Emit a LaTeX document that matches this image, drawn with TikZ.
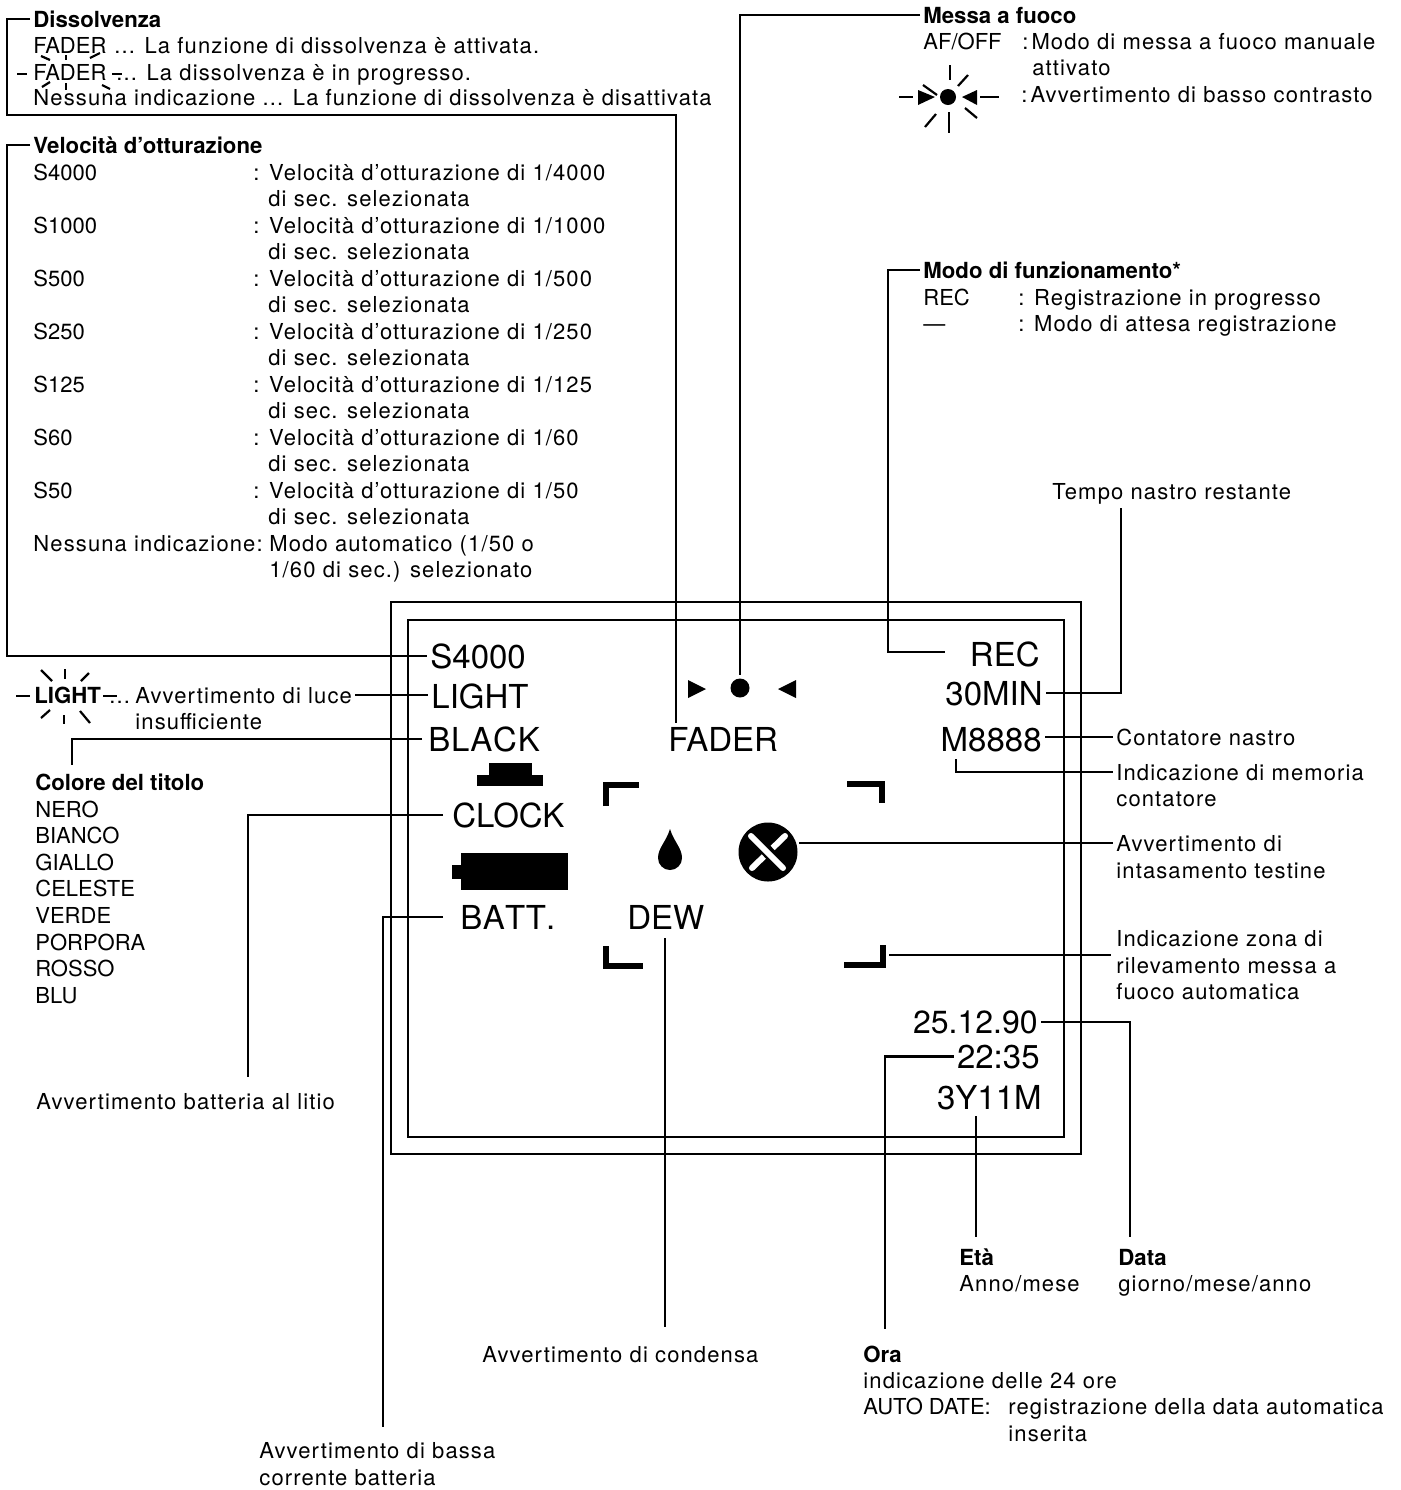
\documentclass[tikz,border=0pt]{standalone}
\usepackage{fontspec}
\setmainfont{TeX Gyre Heros}
\newfontfamily\widefont[LetterSpace=5.1]{TeX Gyre Heros}
\usetikzlibrary{calc}

\begin{document}
\begin{tikzpicture}[x=0.5pt, y=-0.5pt, >=latex,
    caps/.style={anchor=base west, inner sep=0pt, font=\fontsize{11}{13.3}\selectfont},
    txt/.style={caps, font=\widefont\fontsize{11}{13.3}\selectfont},
    head/.style={caps, font=\fontsize{11.1}{13.3}\selectfont\bfseries},
    disp/.style={anchor=base west, inner sep=0pt, font=\fontsize{16.5}{20}\selectfont},
    dispr/.style={disp, anchor=base east},
    lead/.style={line width=1.1pt, line join=miter, shorten <=1.5pt, shorten >=1.5pt},
    blink/.style={line width=1.1pt},
    viewframe/.style={line width=1.4pt},
    corner/.style={line width=3pt, line join=miter}]
  \useasboundingbox (0,0) rectangle (1401,1490);

  % Viewfinder frame
  \draw[viewframe] (391,602) rectangle (1081,1154);
  \draw[viewframe] (408,620) rectangle (1064,1137);

  % Display texts, left
  \node[disp] (nS) at (430,668) {S4000};
  \node[disp] (nLight) at (431,708) {LIGHT};
  \node[disp] (nBlack) at (428,751) {B\kern0.4pt L\kern0.4pt A\kern0.4pt C\kern0.4pt K};
  \node[disp] (nClock) at (452,827) {CLOCK};
  \node[disp] (nBatt) at (460,929) {B\kern0.2pt A\kern0.2pt T\kern0.2pt T\kern0.1pt .};
  \node[disp] (nDew) at (627,929) {DEW};
  \node[disp] (nFader) at (668,751) {FADER};

  % Display texts, right
  \node[dispr] (nRec) at (1040,666) {REC};
  \node[dispr] (nMin) at (1043,705) {30MIN};
  \node[dispr] (nCnt) at (1042,751) {M8888};
  \node[dispr, font=\fontsize{16}{20}\selectfont] (nDate) at (1038,1033) {25.12.90};
  \node[dispr] (nTime) at (1040,1068) {22:35};
  \node[dispr] (nAge) at (1042,1109) {3Y11M};

  % Focus marks in the display
  \fill (688,680) -- (706,689) -- (688,698) -- cycle;
  \fill (796,680) -- (778,689) -- (796,698) -- cycle;
  \node[circle, fill, inner sep=0pt, minimum size=9.5pt] (nDot) at (740,688) {};

  % Lithium battery and clock icons
  \fill (489,763) rectangle (532,775);
  \fill (477,775) rectangle (543,786);
  \fill (461,853) rectangle (568,890);
  \fill (452,865) rectangle (461,879);

  % Focus zone corners
  \draw[corner] (606,806) -- (606,785) -- (639,785);
  \draw[corner] (847,784) -- (882,784) -- (882,803);
  \draw[corner] (606,946) -- (606,966) -- (643,966);
  \draw[corner] (844,965) -- (883,965) -- (883,945);
  \coordinate (cZone) at (886,955);

  % Condensation drop
  \fill (670,829) .. controls (666,842) and (658,848) .. (658,858)
    arc[start angle=180, end angle=0, radius=12]
    .. controls (682,848) and (674,842) .. (670,829) -- cycle;

  % Head clog symbol
  \node[circle, fill, inner sep=0pt, minimum size=29.5pt] (nClog) at (768,852) {};
  \draw[white, line width=3pt, line cap=round] (785,836) -- (752,868);
  \draw[black, line width=6pt] (755,838) -- (781,866);
  \draw[white, line width=3pt, line cap=round] (751,836) -- (783,868);

  % Dissolvenza
  \node[head] (tDis) at (33,27) {Dissolvenza};
  \node[caps] (tDisA) at (33,53) {FADER};
  \node[txt] (tDisA2) at (114,53) {... La funzione di dissolvenza è attivata.};
  \node[caps] (tDisB) at (33,80) {FADER};
  \node[txt] (tDisC) at (116,80) {... La dissolvenza è in progresso.};
  \node[txt] (tDisD) at (33,105) {Nessuna indicazione ... La funzione di dissolvenza è disattivata};
  \foreach \a/\b/\c/\d in {41/56/50/60, 66/55/66/60, 90/58/100/53, 42/87/50/82, 66/83/66/90, 102/85/110/89, 17/74/27/74, 112/74/122/74} {
    \draw[blink] (\a,\b) -- (\c,\d);
  }
  \coordinate (bDis) at (7,115);
  \coordinate (eDis) at (676,726);
  \draw[lead] (tDis.west) -| (bDis) -| (eDis);

  % Velocità d'otturazione
  \node[head] (tVel) at (33,153) {Velocità d’otturazione};
  \foreach \y/\s/\v in {180/S4000/4000, 233/S1000/1000, 286/S500/500, 339/S250/250, 392/S125/125, 445/S60/60, 498/S50/50} {
    \node[caps] (tS\s) at (33,\y) {\s};
    \node[txt] (tV\s) at (253,\y) {: Velocità d’otturazione di 1/\v};
    \node[txt] (tW\s) at (268,\y+26) {di sec. selezionata};
  }
  \node[txt] (tVelA) at (33,551) {Nessuna indicazione:};
  \node[txt] (tVelA2) at (269,551) {Modo automatico (1/50 o};
  \node[txt] (tVelB) at (269,577) {1/60 di sec.) selezionato};
  \coordinate (bVel) at (7,146);
  \draw[lead] (tVel.west) -| (bVel) |- (nS.west);

  % Messa a fuoco
  \node[head] (tFoc) at (923,23) {Messa a fuoco};
  \node[caps] (tFocA) at (923,49) {AF/OFF};
  \node[txt] (tFocB) at (1022,49) {:\hspace{1.5pt}Modo di messa a fuoco manuale};
  \node[txt] (tFocC) at (1032,75) {attivato};
  \node[txt] (tFocD) at (1021,102) {:\hspace{1.5pt}Avvertimento di basso contrasto};
  \draw[lead] (tFoc.west) -| (nDot.north);
  \fill (918,90) -- (935,97) -- (918,105) -- cycle;
  \fill (977,90) -- (962,97) -- (977,105) -- cycle;
  \fill (948,97) circle (8);
  \foreach \a/\b/\c/\d in {899/97/913/97, 980/97/999/97, 950/65/950/80, 923/85/937/95, 958/86/968/75, 925/127/936/114, 949/112/949/133, 965/108/977/118} {
    \draw[blink] (\a,\b) -- (\c,\d);
  }

  % Modo di funzionamento
  \node[head] (tMod) at (923,278) {Modo di funzionamento*};
  \node[caps] (tModA) at (923,305) {REC};
  \node[txt] (tModB) at (1018,305) {: Registrazione in progresso};
  \node[caps] (tModC) at (923,331) {---};
  \node[txt] (tModD) at (1018,331) {: Modo di attesa registrazione};
  \coordinate (bMod) at (888,652);
  \coordinate (eRec) at (948,652);
  \draw[lead] (tMod.west) -| (bMod) -- (eRec);

  % Right-hand labels
  \node[txt] (tTape) at (1052,499) {Tempo nastro restante};
  \coordinate (sTape) at (1121,505);
  \draw[lead] (sTape) |- (nMin.east);
  \node[txt] (tCnt) at (1116,745) {Contatore nastro};
  \draw[lead] (tCnt.west -| nCnt.east) -- (tCnt.west);
  \node[txt] (tMem) at (1116,780) {Indicazione di memoria};
  \node[txt] (tMemB) at (1116,806) {contatore};
  \coordinate (sMem) at (956,756);
  \draw[lead] (sMem) |- (tMem.west);
  \node[txt] (tClog) at (1116,851) {Avvertimento di};
  \node[txt] (tClogB) at (1116,878) {intasamento testine};
  \coordinate (sClog) at (796,844);
  \draw[lead] (tClog.west -| sClog) -- (tClog.west);
  \node[txt] (tZone) at (1116,946) {Indicazione zona di};
  \node[txt] (tZoneB) at (1116,973) {rilevamento messa a};
  \node[txt] (tZoneC) at (1116,999) {fuoco automatica};
  \coordinate (eZone) at (1114,955);
  \draw[lead] (cZone) -- (eZone);

  % Bottom labels
  \node[head] (tData) at (1118,1265) {Data};
  \node[txt] (tDataB) at (1118,1291) {giorno/mese/anno};
  \coordinate (eData) at (1130,1240);
  \draw[lead] (nDate.east) -| (eData);
  \node[head] (tEta) at (959,1265) {Età};
  \node[txt] (tEtaB) at (959,1291) {Anno/mese};
  \coordinate (sAge) at (976,1113);
  \coordinate (eAge) at (976,1240);
  \draw[lead] (sAge) -- (eAge);
  \node[head] (tOra) at (863,1362) {Ora};
  \node[txt] (tOraB) at (863,1388) {indicazione delle 24 ore};
  \node[caps] (tOraC) at (863,1414) {AUTO DATE:};
  \node[txt] (tOraD) at (1008,1414) {registrazione della data automatica};
  \node[txt] (tOraE) at (1008,1441) {inserita};
  \coordinate (eOra) at (885,1332);
  \draw[lead] (nTime.west) -| (eOra);
  \node[txt] (tCond) at (482,1362) {Avvertimento di condensa};
  \coordinate (sDew) at (665,935);
  \coordinate (eDew) at (665,1330);
  \draw[lead] (sDew) -- (eDew);
  \node[txt] (tBass) at (259,1458) {Avvertimento di bassa};
  \node[txt] (tBassB) at (259,1485) {corrente batteria};
  \coordinate (eBatt) at (383,1430);
  \draw[lead] ([xshift=-7pt]nBatt.west) -| (eBatt);
  \node[txt] (tLit) at (36,1109) {Avvertimento batteria al litio};
  \coordinate (eClock) at (248,1080);
  \draw[lead] ([xshift=-3pt]nClock.west) -| (eClock);

  % Left-hand labels
  \node[txt] (tLux) at (135,703) {Avvertimento di luce};
  \node[txt] (tLuxB) at (135,729) {insufficiente};
  \draw[lead] (tLux.east) -- (tLux.east -| nLight.west);
  \node[head] (tBlink) at (34,703) {LIGHT};
  \node[txt] (tDots) at (109,703) {...};
  \foreach \a/\b/\c/\d in {16/696/30/696, 103/696/117/696, 41/670/52/681, 65/669/65/679, 81/681/89/673, 41/718/50/710, 64/715/64/724, 80/711/90/723} {
    \draw[blink] (\a,\b) -- (\c,\d);
  }
  \node[head] (tCol) at (35,790) {Colore del titolo};
  \foreach \y/\s in {817/NERO, 843/BIANCO, 870/GIALLO, 896/CELESTE, 923/VERDE, 950/PORPORA, 976/ROSSO, 1003/BLU} {
    \node[caps] (tC\s) at (35,\y) {\s};
  }
  \coordinate (eBlack) at (72,768);
  \draw[lead] ([xshift=-1.5pt]nBlack.west) -| (eBlack);
\end{tikzpicture}
\end{document}
